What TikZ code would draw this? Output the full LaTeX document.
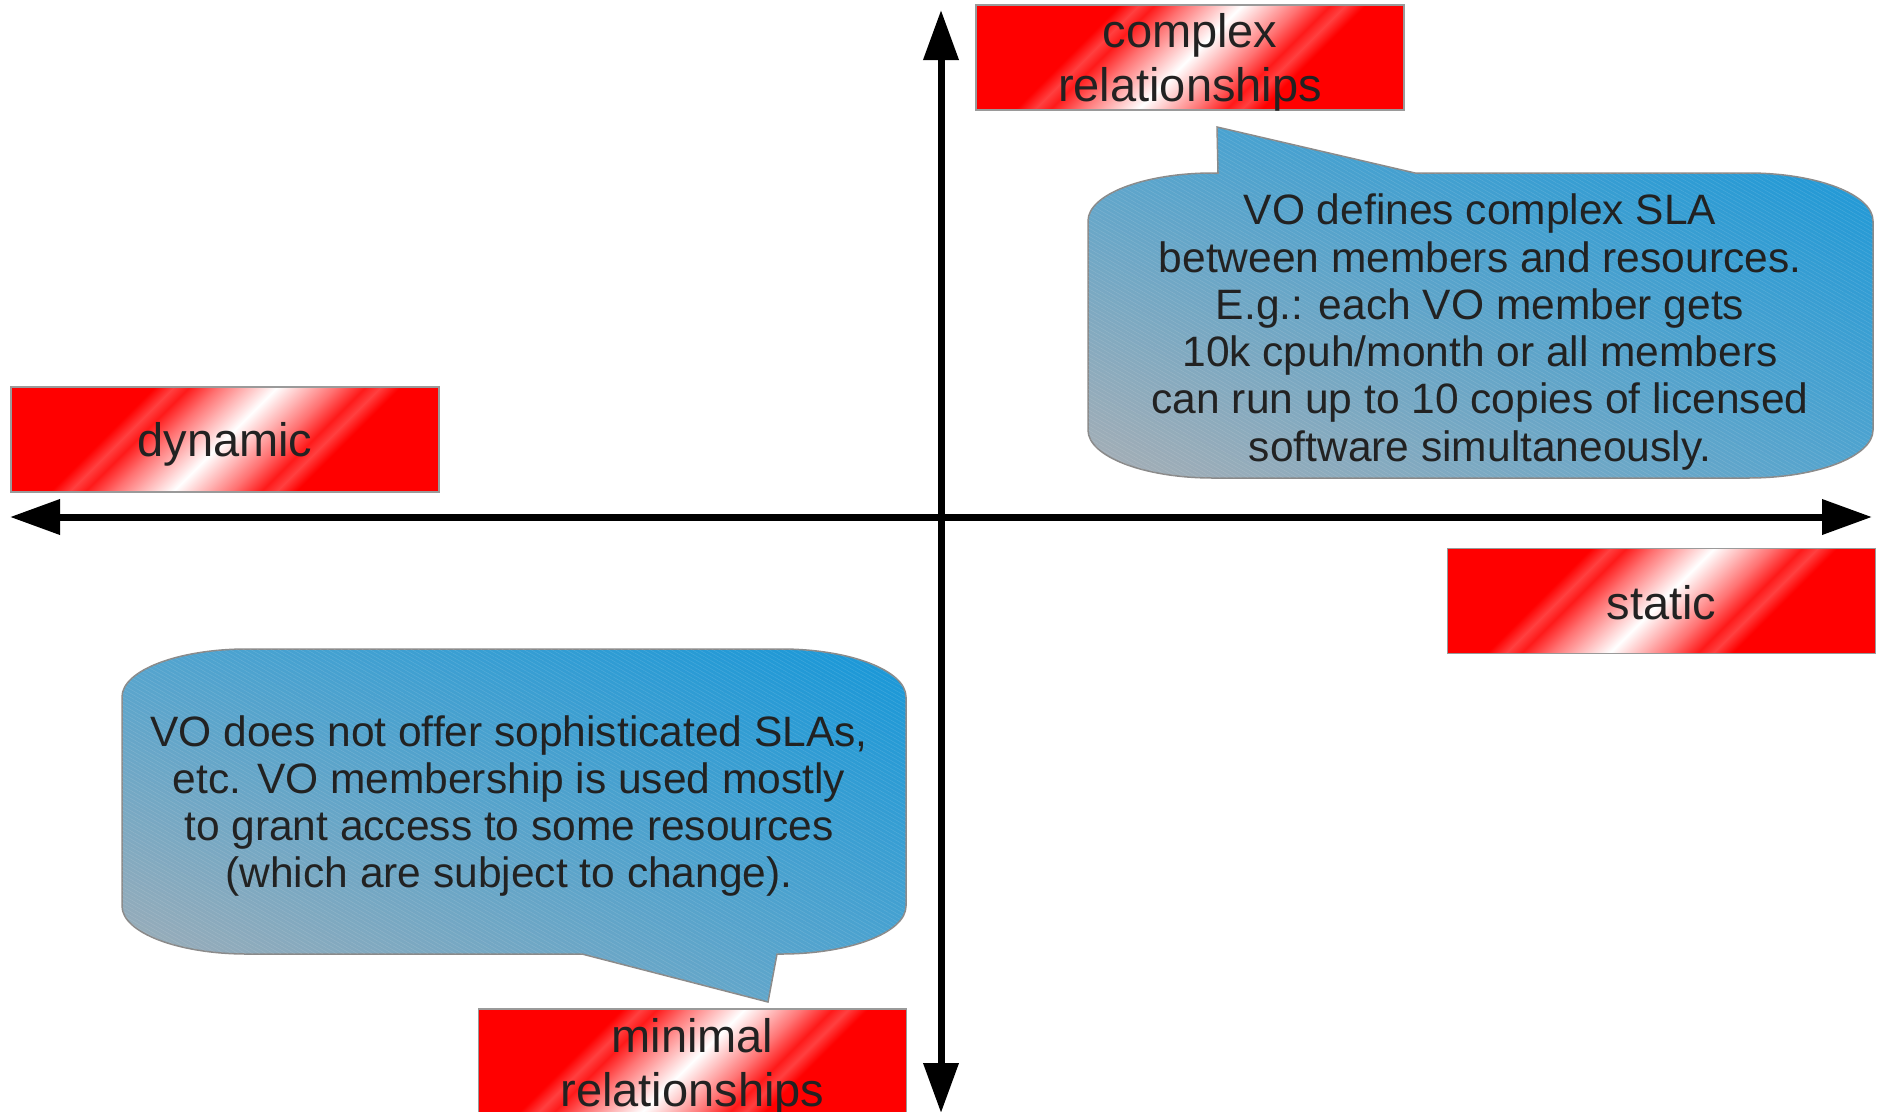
\documentclass[tikz,border=0pt]{standalone}
\usepackage{fontspec}
\setmainfont{Liberation Sans}
\usetikzlibrary{arrows.meta,patterns.meta,shadings}

\definecolor{ink}{HTML}{222222}
\definecolor{boxedge}{HTML}{9A9A9A}
\definecolor{calloutedge}{HTML}{8A8A8A}
\definecolor{skyblue}{HTML}{1797D8}
\definecolor{midblue}{HTML}{52A4CF}
\definecolor{steelgray}{HTML}{A8AEB4}

% red label band: flat red with a soft white stripe in the middle
\pgfdeclarehorizontalshading{redband}{100bp}{%
  color(0bp)=(red); color(40.5bp)=(red); color(42bp)=(red!75!white);
  color(43.2bp)=(red!90!white); color(45.5bp)=(red!55!white);
  color(47.5bp)=(red!30!white);
  color(50bp)=(white);
  color(52.5bp)=(red!30!white); color(54.5bp)=(red!55!white);
  color(56.8bp)=(red!90!white); color(58bp)=(red!75!white);
  color(59.5bp)=(red); color(100bp)=(red)}

\tikzset{
  labelbox/.style={draw=boxedge, line width=1.5pt,
    minimum width=428pt, minimum height=105pt, inner sep=0pt,
    path picture={
      \fill[red] (path picture bounding box.south west)
        rectangle (path picture bounding box.north east);
      \shade[shading=redband, shading angle=-45]
        ([shift={(-230pt,-230pt)}]path picture bounding box.center)
        rectangle ([shift={(230pt,230pt)}]path picture bounding box.center);
    }},
  labeltext/.style={align=center, text=ink, inner sep=0pt,
    font=\fontsize{47pt}{54pt}\selectfont},
  callout/.style={draw=calloutedge, line width=1.5pt,
    upper left=midblue, upper right=skyblue,
    lower left=steelgray, lower right=midblue},
  hatch/.style={pattern={Lines[angle=-30,distance=3.5pt,line width=0.6pt]},
    pattern color=white, opacity=0.12},
  callouttext/.style={align=center, text=ink, inner sep=0pt,
    font=\fontsize{42.5pt}{47.3pt}\selectfont},
  axis/.style={line width=7pt, draw=black,
    {Triangle[length=50pt,width=34pt]}-{Triangle[length=50pt,width=34pt]}}
}

\begin{document}
\begin{tikzpicture}[x=1pt,y=-1pt]
\useasboundingbox (0,0) rectangle (1884,1111);
\clip (0,0) rectangle (1884,1111);

% quadrant labels
\node[labelbox] (complex) at (1190,57.5) {};
\node[labelbox] (dynamic) at (225,439.5) {};
\node[labelbox] (static) at (1661.5,601) {};
\node[labelbox] (minimal) at (692.5,1061.5) {};
\node[labeltext] (complex-text) at ([yshift=-5pt]complex.center) {complex\\relationships};
\node[labeltext] (dynamic-text) at ([yshift=-5pt]dynamic.center) {dynamic};
\node[labeltext] (static-text) at ([yshift=-2pt]static.center) {static};
\node[labeltext] (minimal-text) at ([yshift=-6pt]minimal.center) {minimal\\relationships};

% upper-right speech bubble, tail pointing up
\def\upperbubble{(1213,173) -- (1218,173) -- (1217,127) -- (1415,173) -- (1748,173)
  .. controls (1817,173) and (1873,194.5) .. (1873,221)
  -- (1873,430)
  .. controls (1873,456.5) and (1817,478) .. (1748,478)
  -- (1213,478)
  .. controls (1144,478) and (1088,456.5) .. (1088,430)
  -- (1088,221)
  .. controls (1088,194.5) and (1144,173) .. (1213,173) -- cycle}
\shadedraw[callout] \upperbubble;
\path[hatch] \upperbubble;
\node[callouttext] (complexnote) at (1480,332)
  {VO defines complex SLA\\
   between members and resources.\\
   E.g.: each VO member gets\\
   10k cpuh/month or all members\\
   can run up to 10 copies of licensed\\
   software simultaneously.};

% lower-left speech bubble, tail pointing down
\def\lowerbubble{(247,649) -- (781,649)
  .. controls (850,649) and (906,670.5) .. (906,697)
  -- (906,906)
  .. controls (906,932.5) and (850,954) .. (781,954)
  -- (777,954) -- (768,1002) -- (582,954) -- (247,954)
  .. controls (178,954) and (122,932.5) .. (122,906)
  -- (122,697)
  .. controls (122,670.5) and (178,649) .. (247,649) -- cycle}
\shadedraw[callout] \lowerbubble;
\path[hatch] \lowerbubble;
\node[callouttext] (minimalnote) at (509,806)
  {VO does not offer sophisticated SLAs,\\
   etc. VO membership is used mostly\\
   to grant access to some resources\\
   (which are subject to change).};

% axes
\coordinate (west) at (10,517);
\coordinate (east) at (1872,517);
\coordinate (north) at (941,10);
\coordinate (south) at (941,1113);
\draw[axis] (west) -- (east);
\draw[axis] (north) -- (south);
\end{tikzpicture}
\end{document}
